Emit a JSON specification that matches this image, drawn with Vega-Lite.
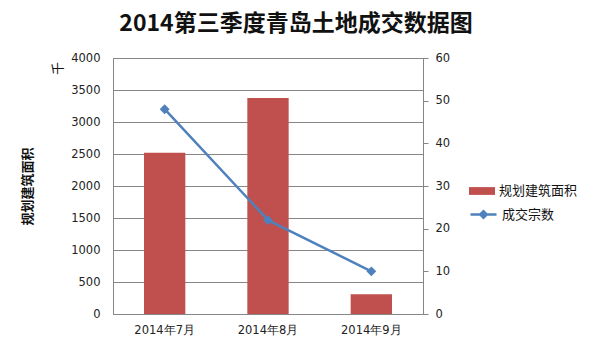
{
  "$schema": "https://vega.github.io/schema/vega-lite/v6.json",
  "width": 310,
  "height": 256,
  "autosize": {"type": "none"},
  "padding": {"left": 113, "top": 58, "right": 171, "bottom": 47},
  "background": "white",
  "title": {
    "text": "2014第三季度青岛土地成交数据图",
    "font": "Noto Sans CJK SC",
    "fontSize": 23,
    "fontWeight": "bold",
    "color": "#111111",
    "anchor": "middle",
    "dx": 28,
    "offset": 16
  },
  "data": {
    "values": [
      {"month": "2014年7月", "area": 2520, "count": 48},
      {"month": "2014年8月", "area": 3375, "count": 22},
      {"month": "2014年9月", "area": 310, "count": 10}
    ]
  },
  "config": {
    "view": {"stroke": "#868686"},
    "axis": {
      "labelFont": "DejaVu Sans",
      "labelFontSize": 11.5,
      "labelColor": "#222222",
      "domainColor": "#868686",
      "tickColor": "#868686",
      "gridColor": "#868686",
      "gridOpacity": 1,
      "titleFont": "Noto Sans CJK SC",
      "titleColor": "#111111"
    },
    "legend": {
      "labelFont": "Noto Sans CJK SC",
      "labelFontSize": 13,
      "labelColor": "#111111"
    }
  },
  "layer": [
    {
      "mark": {"type": "bar", "color": "#C0504D"},
      "encoding": {
        "x": {
          "field": "month",
          "type": "nominal",
          "sort": null,
          "scale": {"paddingInner": 0.6, "paddingOuter": 0.3},
          "axis": {"title": null, "labelAngle": 0, "ticks": false, "labelPadding": 10, "labelFont": "DejaVu Sans"}
        },
        "y": {
          "field": "area",
          "type": "quantitative",
          "scale": {"domain": [0, 4000], "nice": false},
          "axis": {
            "values": [0, 500, 1000, 1500, 2000, 2500, 3000, 3500, 4000],
            "format": "d",
            "grid": true,
            "ticks": false,
            "labelPadding": 13,
            "title": "规划建筑面积",
            "titleFontSize": 13,
            "titleFontWeight": "bold",
            "titleX": -86,
            "titleY": 128,
            "titleAngle": -90,
            "titleAlign": "center",
            "titleBaseline": "middle"
          }
        },
        "fill": {
          "datum": "规划建筑面积",
          "scale": {"range": ["#C0504D"]},
          "legend": {
            "title": null,
            "orient": "none",
            "legendX": 356,
            "legendY": 120,
            "symbolType": "M-1,-0.3H1V0.3H-1Z",
            "symbolSize": 676,
            "symbolStrokeWidth": 0
          }
        }
      }
    },
    {
      "mark": {
        "type": "line",
        "color": "#4F81BD",
        "strokeWidth": 2.5,
        "point": {"shape": "diamond", "size": 50, "filled": true, "color": "#4F81BD"}
      },
      "encoding": {
        "x": {"field": "month", "type": "nominal", "sort": null},
        "y": {
          "field": "count",
          "type": "quantitative",
          "scale": {"domain": [0, 60], "nice": false},
          "axis": {
            "orient": "right",
            "values": [0, 10, 20, 30, 40, 50, 60],
            "format": "d",
            "grid": false,
            "tickSize": 5,
            "labelPadding": 7,
            "title": null
          }
        },
        "stroke": {
          "datum": "成交宗数",
          "scale": {"range": ["#4F81BD"]},
          "legend": {
            "title": null,
            "orient": "none",
            "legendX": 356,
            "legendY": 142,
            "symbolType": "M-1,0H1M-0.25,0L0,-0.25L0.25,0L0,0.25Z",
            "symbolSize": 676,
            "encode": {
              "symbols": {
                "update": {
                  "fill": {"value": "#4F81BD"},
                  "stroke": {"value": "#4F81BD"},
                  "strokeWidth": {"value": 2.5}
                }
              }
            }
          }
        }
      }
    },
    {
      "mark": {"type": "point", "opacity": 0},
      "encoding": {
        "x": {"field": "month", "type": "nominal", "sort": null},
        "y": {
          "field": "area",
          "type": "quantitative",
          "scale": {"domain": [0, 4000], "nice": false},
          "axis": {
            "orient": "left",
            "labels": false,
            "ticks": false,
            "domain": false,
            "grid": false,
            "title": "千",
            "titleFontSize": 13,
            "titleFontWeight": "normal",
            "titleAngle": -90,
            "titleX": -56,
            "titleY": 10,
            "titleAlign": "center",
            "titleBaseline": "middle"
          }
        }
      }
    }
  ],
  "resolve": {"scale": {"y": "independent", "fill": "independent", "stroke": "independent"}}
}
